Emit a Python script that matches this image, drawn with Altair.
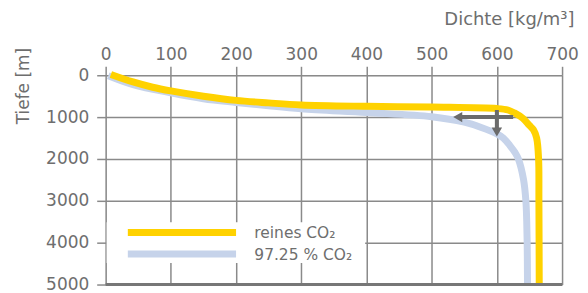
import altair as alt
import pandas as pd

# --- data ---
pure_density = [8, 42, 72, 100, 150, 200, 250, 300, 400, 500, 600, 617, 627, 640, 650, 656, 661, 664, 664.5, 665]
pure_depth = [-20, 160, 286, 374, 500, 600, 660, 709, 742, 760, 795, 830, 900, 1030, 1200, 1300, 1500, 2000, 3000, 5000]

mix_density = [4, 42, 100, 150, 200, 250, 300, 400, 500, 550, 575, 600, 610, 620, 628, 633, 641, 644.5, 645.8, 646.5, 646.8, 647]
mix_depth = [10, 222, 420, 560, 650, 730, 800, 890, 990, 1120, 1240, 1400, 1500, 1680, 1850, 2000, 2500, 3000, 3500, 4000, 4500, 5000]

series_names = ["reines CO\u2082", "97.25 % CO\u2082"]
series_colors = ["#FFD200", "#C6D3EA"]

x_ticks = [0, 100, 200, 300, 400, 500, 600, 700]
y_ticks = [0, 500, 1000, 1500, 2000, 2500, 3000, 3500, 4000, 4500, 5000]

# arrows (density, depth)
h_arrow = {"x": 625, "x2": 546, "y": 1000, "head_x": 540}
v_arrow = {"x": 600, "y": 830, "y2": 1340, "head_y": 1357}

legend_box = {"x": 1.5, "x2": 398, "y": 3512, "y2": 4488}
legend_line_x = [34, 200]
legend_text_x = 228
legend_rows_y = [3755, 4272]

FONT = "DejaVu Sans"
TXT = "#6e6e6e"
GRID = "#8a8a8a"

df_pure = pd.DataFrame({"d": pure_density, "z": pure_depth, "s": series_names[0], "o": range(len(pure_depth))})
df_mix = pd.DataFrame({"d": mix_density, "z": mix_depth, "s": series_names[1], "o": range(len(mix_depth))})

xscale = alt.Scale(domain=[0, 700], nice=False, zero=False)
yscale = alt.Scale(domain=[0, 5000], reverse=True, nice=False, zero=False)

xaxis = alt.Axis(
    orient="top", values=x_ticks, format="d", domain=False, labelFlush=False,
    grid=True, gridColor=GRID, gridWidth=1.5,
    ticks=True, tickSize=9, tickColor=GRID, tickWidth=1.5,
    labelFont=FONT, labelFontSize=17, labelColor=TXT, labelPadding=3,
    title="Dichte [kg/m\u00b3]", titleFont=FONT, titleFontSize=18, titleFontWeight="normal",
    titleColor=TXT, titleAlign="right", titleX=470, titleY=-51, titleBaseline="alphabetic",
)
yaxis = alt.Axis(
    orient="left", values=y_ticks, format="d", domain=False, labelFlush=False,
    labelExpr="datum.value % 1000 === 0 ? datum.label : ''",
    grid=True, gridColor=GRID, gridWidth=1.5,
    ticks=True, tickSize={"condition": {"test": "datum.value % 1000 === 0", "value": 9}, "value": 6},
    tickColor=GRID, tickWidth=1.5,
    labelFont=FONT, labelFontSize=17, labelColor=TXT, labelPadding=8,
    title="Tiefe [m]", titleFont=FONT, titleFontSize=17, titleFontWeight="normal",
    titleColor=TXT, titleAngle=270, titleAlign="right", titleX=-82, titleY=-28, titleBaseline="middle",
)

base_x = alt.X("d:Q", scale=xscale, axis=xaxis)
base_y = alt.Y("z:Q", scale=yscale, axis=yaxis)

mix_line = alt.Chart(df_mix).mark_line(
    color=series_colors[1], strokeWidth=7, interpolate="catmull-rom", clip=False
).encode(x=base_x, y=base_y, order="o:Q")

pure_line = alt.Chart(df_pure).mark_line(
    color=series_colors[0], strokeWidth=7, interpolate="catmull-rom", clip=False
).encode(x=alt.X("d:Q", scale=xscale), y=alt.Y("z:Q", scale=yscale), order="o:Q")

bottom = alt.Chart(pd.DataFrame({"a": [0], "b": [700], "z": [5000]})).mark_rule(
    color="#777777", strokeWidth=3
).encode(x=alt.X("a:Q", scale=xscale), x2="b:Q", y=alt.Y("z:Q", scale=yscale))

box = alt.Chart(pd.DataFrame([legend_box])).mark_rect(color="white").encode(
    x=alt.X("x:Q", scale=xscale), x2="x2:Q", y=alt.Y("y:Q", scale=yscale), y2="y2:Q"
)

leg_df = pd.DataFrame({
    "a": [legend_line_x[0]] * 2, "b": [legend_line_x[1]] * 2, "z": legend_rows_y,
    "s": series_names, "t": [legend_text_x] * 2, "c": series_colors,
})
leg_lines = alt.Chart(leg_df).mark_rule(strokeWidth=7).encode(
    x=alt.X("a:Q", scale=xscale), x2="b:Q", y=alt.Y("z:Q", scale=yscale),
    color=alt.Color("c:N", scale=None),
)
leg_text = alt.Chart(leg_df).mark_text(
    align="left", baseline="middle", font=FONT, fontSize=15.5, color=TXT, dy=1
).encode(x=alt.X("t:Q", scale=xscale), y=alt.Y("z:Q", scale=yscale), text="s:N")

ARROW = "#6b6b6b"
h_rule = alt.Chart(pd.DataFrame([h_arrow])).mark_rule(color=ARROW, strokeWidth=4).encode(
    x=alt.X("x:Q", scale=xscale), x2="x2:Q", y=alt.Y("y:Q", scale=yscale)
)
h_head = alt.Chart(pd.DataFrame([h_arrow])).mark_point(
    shape="triangle-left", filled=True, color=ARROW, size=110, opacity=1
).encode(x=alt.X("head_x:Q", scale=xscale), y=alt.Y("y:Q", scale=yscale))
v_rule = alt.Chart(pd.DataFrame([v_arrow])).mark_rule(color=ARROW, strokeWidth=4).encode(
    x=alt.X("x:Q", scale=xscale), y=alt.Y("y:Q", scale=yscale), y2="y2:Q"
)
v_head = alt.Chart(pd.DataFrame([v_arrow])).mark_point(
    shape="triangle-down", filled=True, color=ARROW, size=110, opacity=1
).encode(x=alt.X("x:Q", scale=xscale), y=alt.Y("head_y:Q", scale=yscale))

chart = alt.layer(
    mix_line, box, leg_lines, leg_text, pure_line, bottom, h_rule, h_head, v_rule, v_head
).properties(
    width=458, height=210,
    autosize=alt.AutoSizeParams(type="none"),
    padding={"left": 98, "top": 67, "right": 18, "bottom": 8},
).configure_view(stroke=None).configure(background="white")

chart.save("out.html", embed_options={"renderer": "svg", "actions": False})
